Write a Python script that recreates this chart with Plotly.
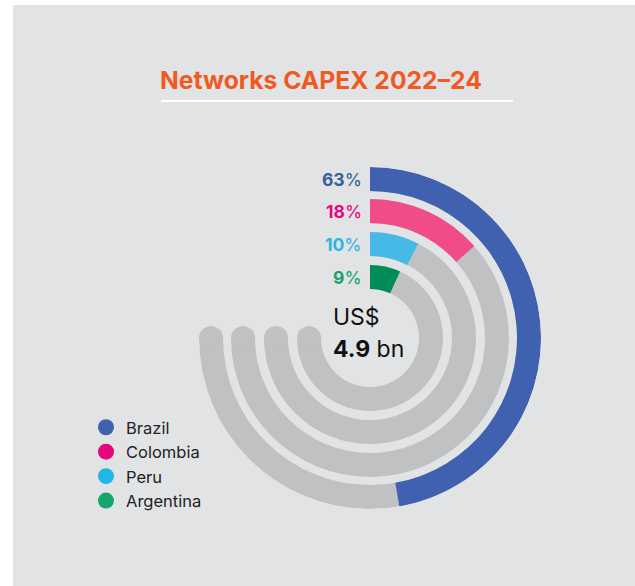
import plotly.graph_objects as go

# ---- data ----
countries = ["Brazil", "Colombia", "Peru", "Argentina"]
shares = [63, 18, 10, 9]          # % of networks capex
total_label = "4.9"               # US$ bn
title_text = "Networks CAPEX 2022–24"

# ---- styling ----
ring_colors = ["#4060b0", "#f04c89", "#47b9e8", "#008c58"]
legend_colors = ["#4060b0", "#e6077f", "#1fb6e8", "#16a66e"]
label_colors = ["#33609a", "#e5097f", "#2bb5e5", "#16a46b"]
track_color = "#c0c1c3"
panel_color = "#e2e3e5"
font_family = "Inter, sans-serif"

W, H = 635, 586
cx, cy, R = 370, 338, 171          # ring centre / outer radius in px
ring_outer = [171, 139, 106, 73]   # radial units == px
ring_w = 24
sweep = 270                         # full track = 100 %


def px(x):
    return x / W


def py(y):
    return 1 - y / H


fig = go.Figure()

# grey tracks
for i, name in enumerate(countries):
    base = ring_outer[i] - ring_w
    fig.add_trace(go.Barpolar(
        r=[ring_w], base=[base], theta=[sweep / 2], width=[sweep],
        marker=dict(color=track_color, line=dict(width=0)),
        showlegend=False, hoverinfo="skip"))
    # rounded end of the track
    fig.add_trace(go.Scatterpolar(
        r=[base + ring_w / 2], theta=[sweep], mode="markers",
        marker=dict(color=track_color, size=ring_w, line=dict(width=0)),
        showlegend=False, hoverinfo="skip"))

# coloured share arcs
for i, (name, v) in enumerate(zip(countries, shares)):
    ang = sweep * v / 100
    fig.add_trace(go.Barpolar(
        r=[ring_w], base=[ring_outer[i] - ring_w], theta=[ang / 2], width=[ang],
        marker=dict(color=ring_colors[i], line=dict(width=0)),
        name=name, showlegend=False))

# legend entries
for name, col in zip(countries, legend_colors):
    fig.add_trace(go.Scatterpolar(
        r=[None], theta=[None], mode="markers", name=name,
        marker=dict(color=col, size=18, symbol="circle"), showlegend=True))

annotations = []
# percentage labels
for i, v in enumerate(shares):
    ymid = cy - (ring_outer[i] - ring_w / 2)
    annotations.append(dict(
        x=px(cx - 6), y=py(ymid), xref="paper", yref="paper",
        xanchor="right", yanchor="middle", showarrow=False,
        text=f"<b>{v}</b>%", font=dict(size=17.5, color=label_colors[i],
                                        family=font_family)))

# title
annotations.append(dict(
    x=px(321), y=py(80), xref="paper", yref="paper", xanchor="center",
    yanchor="middle", showarrow=False, text=f"<b>{title_text}</b>",
    font=dict(size=24.7, color="#f05a22", family=font_family)))

# centre total
annotations.append(dict(
    x=px(331), y=py(317), xref="paper", yref="paper", xanchor="left",
    yanchor="middle", showarrow=False, text="US$",
    font=dict(size=23, color="#111111", family=font_family)))
annotations.append(dict(
    x=px(331), y=py(349), xref="paper", yref="paper", xanchor="left",
    yanchor="middle", showarrow=False, text=f"<b>{total_label}</b> bn",
    font=dict(size=23, color="#111111", family=font_family)))

shapes = [
    # panel
    dict(type="rect", xref="paper", yref="paper", x0=px(13), x1=1.0,
         y0=0, y1=py(5), fillcolor=panel_color, line=dict(width=0),
         layer="below"),
    # title rule
    dict(type="line", xref="paper", yref="paper", x0=px(161), x1=px(513),
         y0=py(101), y1=py(101), line=dict(color="white", width=2)),
]

fig.update_layout(
    width=W, height=H, margin=dict(l=0, r=0, t=0, b=0),
    paper_bgcolor="white", plot_bgcolor="rgba(0,0,0,0)",
    polar=dict(
        domain=dict(x=[px(cx - R), px(cx + R)], y=[py(cy + R), py(cy - R)]),
        bgcolor="rgba(0,0,0,0)",
        radialaxis=dict(range=[0, R], visible=False, showgrid=False),
        angularaxis=dict(direction="clockwise", rotation=90, visible=False,
                         showgrid=False),
    ),
    showlegend=True,
    legend=dict(x=px(86), y=py(410), xanchor="left", yanchor="top",
                bgcolor="rgba(0,0,0,0)",
                font=dict(size=16.5, color="#222222", family=font_family),
                itemsizing="trace", tracegroupgap=0),
    annotations=annotations,
    shapes=shapes,
)

fig.write_html("out.html")
